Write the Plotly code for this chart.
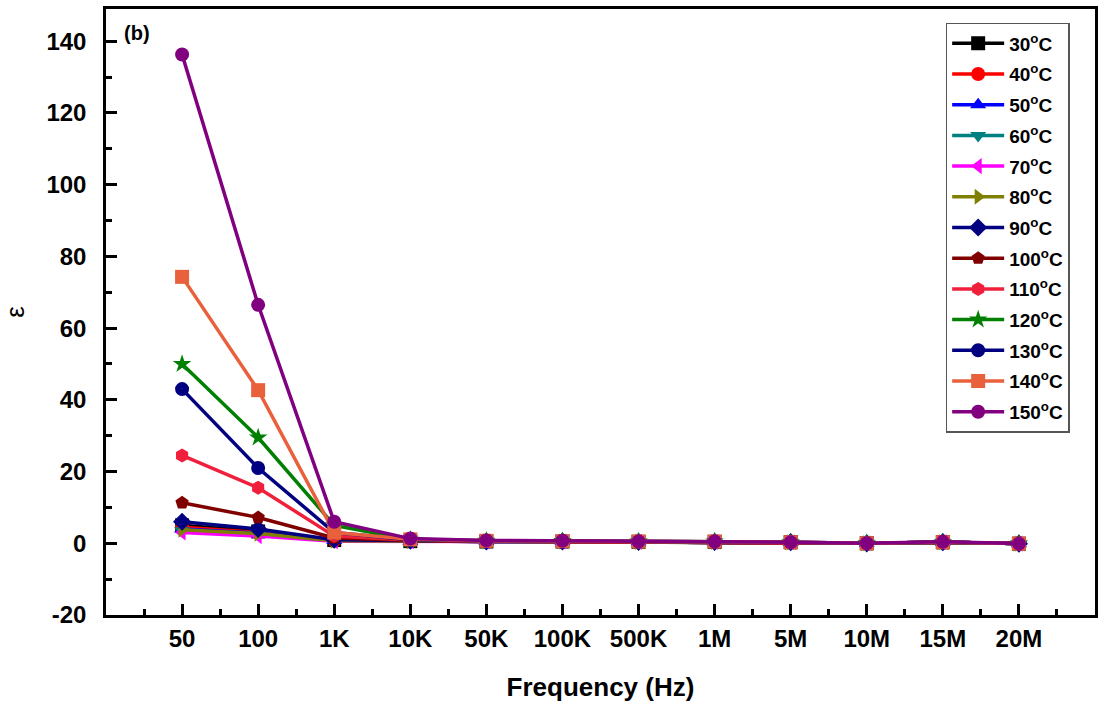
import plotly.graph_objects as go

freq_labels = ["50", "100", "1K", "10K", "50K", "100K", "500K", "1M", "5M", "10M", "15M", "20M"]
temps = ["30", "40", "50", "60", "70", "80", "90", "100", "110", "120", "130", "140", "150"]
y_ticks = [-20, 0, 20, 40, 60, 80, 100, 120, 140]
y_tick_labels = ["-20", "0", "20", "40", "60", "80", "100", "120", "140"]

eps_30 = [5.0, 3.3, 0.9, 0.6, 0.5, 0.5, 0.4, 0.4, 0.3, 0.0, 0.3, -0.1]
eps_40 = [4.5, 3.0, 0.8, 0.6, 0.5, 0.5, 0.4, 0.4, 0.3, 0.0, 0.3, -0.1]
eps_50 = [4.0, 2.8, 0.8, 0.6, 0.5, 0.5, 0.4, 0.4, 0.3, 0.0, 0.3, -0.1]
eps_60 = [3.5, 2.5, 0.7, 0.6, 0.5, 0.5, 0.4, 0.4, 0.3, 0.0, 0.3, -0.1]
eps_70 = [3.0, 2.0, 0.6, 0.6, 0.5, 0.5, 0.4, 0.4, 0.3, 0.0, 0.3, -0.1]
eps_80 = [3.8, 2.7, 0.7, 0.6, 0.5, 0.5, 0.4, 0.4, 0.3, 0.0, 0.3, -0.1]
eps_90 = [6.0, 4.0, 1.0, 0.7, 0.5, 0.5, 0.4, 0.4, 0.3, 0.0, 0.3, -0.1]
eps_100 = [11.3, 7.2, 1.5, 0.8, 0.6, 0.5, 0.4, 0.4, 0.3, 0.0, 0.3, -0.1]
eps_110 = [24.5, 15.5, 2.0, 0.9, 0.6, 0.5, 0.4, 0.4, 0.3, 0.0, 0.3, -0.1]
eps_120 = [50.0, 29.5, 5.0, 1.0, 0.7, 0.6, 0.5, 0.5, 0.3, 0.0, 0.3, -0.1]
eps_130 = [43.0, 21.0, 3.0, 1.0, 0.7, 0.6, 0.5, 0.5, 0.3, 0.0, 0.3, -0.1]
eps_140 = [74.3, 42.7, 3.0, 1.1, 0.7, 0.6, 0.5, 0.5, 0.3, 0.0, 0.3, -0.1]
eps_150 = [136.3, 66.5, 6.0, 1.3, 0.8, 0.7, 0.5, 0.5, 0.3, 0.0, 0.4, -0.1]

series = [eps_30, eps_40, eps_50, eps_60, eps_70, eps_80, eps_90,
          eps_100, eps_110, eps_120, eps_130, eps_140, eps_150]
colors = ["#000000", "#FF0000", "#0000FF", "#008080", "#FF00FF", "#808000", "#000080",
          "#800000", "#F0203C", "#008000", "#000080", "#E8603C", "#800080"]
symbols = ["square", "circle", "triangle-up", "triangle-down", "triangle-left",
           "triangle-right", "diamond", "pentagon", "hexagon", "star", "circle-dot",
           "square", "circle"]

xs = list(range(len(freq_labels)))
FONT = "Liberation Sans, Arial, sans-serif"

fig = go.Figure()
for t, vals, c, s in zip(temps, series, colors, symbols):
    fig.add_trace(go.Scatter(
        x=xs, y=vals, mode="lines+markers",
        name=f"{t}<sup>o</sup>C", legendgroup=t,
        line=dict(color=c, width=3.5),
        marker=dict(symbol=s, size=14, color=c, line=dict(width=0)),
    ))

fig.add_annotation(x=0.016, y=0.982, xref="paper", yref="paper", text="(b)",
                   showarrow=False, xanchor="left", yanchor="top",
                   font=dict(family=FONT, size=20, color="black", weight="bold"))

fig.update_layout(
    width=1099, height=704,
    margin=dict(l=106, r=1, t=9, b=89),
    paper_bgcolor="white", plot_bgcolor="white",
    showlegend=True,
    legend=dict(x=0.849, y=0.977, xanchor="left", yanchor="top",
                bordercolor="#555555", borderwidth=1.5, bgcolor="white",
                font=dict(family=FONT, size=19, color="black", weight="bold"),
                itemwidth=52, tracegroupgap=3),
    xaxis=dict(
        range=[-1, 12], tickmode="array", tickvals=xs, ticktext=freq_labels,
        ticks="inside", ticklen=11, tickwidth=2.5, tickcolor="black",
        showline=True, linecolor="black", linewidth=2.5, mirror=True,
        showgrid=False, zeroline=False,
        tickfont=dict(family=FONT, size=24, color="black", weight="bold"),
        minor=dict(tickmode="array", tickvals=[i - 0.5 for i in range(13)],
                   ticks="inside", ticklen=6, tickwidth=2.5, tickcolor="black", showgrid=False),
        title=dict(text="Frequency (Hz)", standoff=28,
                   font=dict(family=FONT, size=26, color="black", weight="bold")),
    ),
    yaxis=dict(
        range=[-20, 149], tickmode="array", tickvals=y_ticks, ticktext=y_tick_labels,
        ticks="inside", ticklen=11, tickwidth=2.5, tickcolor="black",
        ticklabelstandoff=12,
        showline=True, linecolor="black", linewidth=2.5, mirror=True,
        showgrid=False, zeroline=False,
        tickfont=dict(family=FONT, size=24, color="black", weight="bold"),
        minor=dict(tickmode="linear", tick0=-10, dtick=20,
                   ticks="inside", ticklen=6, tickwidth=2.5, tickcolor="black", showgrid=False),
        title=dict(text="ε", standoff=22,
                   font=dict(family=FONT, size=26, color="black")),
    ),
)

fig.write_html("out.html", config={"displayModeBar": False},
               post_script="document.body.style.margin='0';document.body.style.overflow='hidden';")
